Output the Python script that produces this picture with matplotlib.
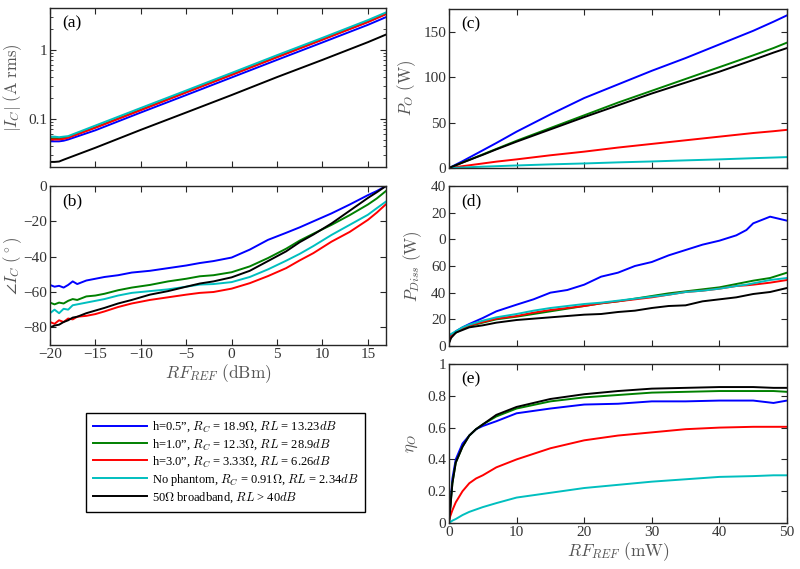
import matplotlib
matplotlib.use("Agg")
import matplotlib.pyplot as plt
from matplotlib.lines import Line2D
from matplotlib.ticker import LogLocator, NullFormatter

# ---- data ----
# (a) |I_C| vs RF_REF (dBm)
dbm_a = [-20, -19.5, -19, -18.5, -18, -15, -10, -5, 0, 5, 10, 15, 17]
ic_blue = [0.047, 0.047, 0.047, 0.048, 0.050, 0.068, 0.123, 0.22, 0.395, 0.71, 1.27, 2.28, 2.95]
ic_green = [0.052, 0.052, 0.052, 0.053, 0.054, 0.075, 0.135, 0.243, 0.435, 0.785, 1.41, 2.53, 3.3]
ic_red = [0.050, 0.050, 0.050, 0.051, 0.053, 0.074, 0.133, 0.24, 0.43, 0.775, 1.39, 2.5, 3.25]
ic_cyan = [0.055, 0.055, 0.054, 0.055, 0.056, 0.0796, 0.143, 0.256, 0.46, 0.83, 1.48, 2.67, 3.45]
ic_black = [0.0237, 0.0237, 0.024, 0.0255, 0.027, 0.038, 0.069, 0.123, 0.22, 0.40, 0.71, 1.28, 1.65]

# (b) angle of I_C vs RF_REF (dBm)
dbm_b = [-20, -19.5, -19, -18.5, -18, -17.5, -17, -16, -15, -14, -12.5, -11, -9, -7, -5,
         -3.5, -2, 0, 2, 4, 6, 7.5, 9, 11, 13, 15, 16, 17]
ang_blue = [-56, -57, -56.5, -57.5, -56, -54, -55.5, -53.5, -52.5, -51.5, -50.5, -49, -48, -46.5, -45,
            -43.6, -42.5, -40.5, -36, -30.5, -26.5, -23.4, -20, -15.5, -10.5, -5.2, -2.8, 0]
ang_green = [-66, -67, -66, -66.5, -65, -64, -64.5, -62.5, -62, -61, -59, -57.5, -56, -54, -52.5,
             -51.1, -50.5, -48.8, -45.5, -40.8, -35.5, -30.9, -27, -22, -16.5, -10.5, -7, -2.8]
ang_red = [-77, -78, -76, -77, -75, -75.5, -74, -73.5, -72.5, -71, -68.5, -66.5, -64.5, -63, -61.5,
           -60.5, -60, -58.1, -55, -51, -46.5, -42.1, -38, -31.5, -26, -19.2, -15, -10.3]
ang_cyan = [-72, -70, -72, -69.5, -70, -67.5, -67, -66, -65, -64, -62, -60.5, -59.5, -58.5, -57,
            -55.8, -55.5, -54.4, -51.5, -47.2, -42.3, -38.4, -34, -27.7, -22, -16.3, -12.5, -8.8]
ang_black = [-80, -79, -78.5, -77, -76, -74.5, -74, -72, -70.5, -69, -66.5, -64.5, -61.5, -59.5, -57,
             -55.2, -54, -51.7, -48, -42.5, -37, -31.8, -27.5, -21.2, -14, -6.8, -3.5, 0]

# (c) P_O vs RF_REF (mW)
mw_c = [0, 0.5, 1, 2, 3, 4, 5, 7, 10, 15, 20, 25, 30, 35, 40, 45, 48, 50]
po_blue = [0, 1.8, 3.7, 7.5, 11.5, 15.5, 19.5, 27.5, 40, 59, 77, 92, 107, 121, 136, 151, 161, 168]
po_green = [0, 1.5, 3, 6, 9, 12, 15, 21, 30, 44, 58, 72, 85, 98, 111, 124, 132, 138]
po_red = [0, 0.5, 1, 2, 3, 4, 5, 7, 9.5, 14, 18, 22.5, 26.5, 30.5, 34.5, 38.5, 40.5, 42]
po_cyan = [0, 0.1, 0.3, 0.6, 0.9, 1.2, 1.5, 2, 2.8, 4, 5, 6.2, 7.2, 8.4, 9.5, 10.8, 11.5, 12]
po_black = [0, 1.5, 3, 6, 8.8, 11.7, 14.5, 20.5, 29, 42.5, 56, 69, 82, 94, 106, 119, 127, 132]

# (d) P_Diss vs RF_REF (mW)
mw_d = [0, 0.3, 1, 2, 3, 5, 7, 10, 12.5, 15, 17.5, 20, 22.5, 25, 27.5, 30, 32.5, 35, 37.5,
        40, 42.5, 44, 45, 47.5, 50]
pd_blue = [3, 8, 11, 14, 16.5, 21, 26, 31, 35, 40, 42, 46, 52, 55, 60, 63, 68, 72, 76,
           79, 83, 87, 92, 97, 94]
pd_green = [3, 7, 10, 13, 15, 17.5, 20, 22, 24, 26, 28, 30, 32, 33.5, 35.5, 37.5, 39.5, 41, 42.5,
            44, 46.5, 48, 49, 51, 55]
pd_red = [3, 7, 10, 13.5, 15.5, 18, 20.5, 22.5, 25, 27, 28.5, 30, 32, 33.5, 35, 36.5, 38.5, 40.5, 41.5,
          43, 45, 45.5, 46, 47.5, 49.5]
pd_cyan = [8, 9, 11, 14, 16, 19, 21.5, 24, 26.5, 28.5, 30, 31.5, 32.5, 34, 35.5, 37, 38.5, 40.5, 41.5,
           43, 45, 46, 47, 49.5, 51]
pd_black = [2, 6, 10, 12, 14, 15.5, 17.5, 19.5, 20.5, 21.5, 22.5, 23.5, 24, 25.5, 26.5, 28.5, 30, 30.5, 33.5,
            35, 36.5, 38, 39, 40.5, 43.5]
pd_ticklabels = ['0', '20', '40', '60', '0', '20', '40']

# (e) eta_O vs RF_REF (mW)
mw_e = [0, 0.5, 1, 2, 3, 4, 5, 7, 10, 15, 20, 25, 30, 35, 40, 45, 48, 50]
eta_blue = [0, 0.28, 0.40, 0.50, 0.55, 0.59, 0.61, 0.64, 0.69, 0.72, 0.745, 0.75, 0.765, 0.765, 0.77, 0.77, 0.755, 0.77]
eta_green = [0, 0.25, 0.38, 0.48, 0.55, 0.59, 0.62, 0.67, 0.72, 0.765, 0.79, 0.805, 0.82, 0.825, 0.83, 0.83, 0.83, 0.825]
eta_red = [0.02, 0.08, 0.13, 0.20, 0.25, 0.28, 0.30, 0.35, 0.40, 0.47, 0.52, 0.55, 0.57, 0.59, 0.60, 0.605, 0.605, 0.605]
eta_cyan = [0, 0.015, 0.025, 0.05, 0.07, 0.085, 0.10, 0.125, 0.16, 0.19, 0.22, 0.24, 0.26, 0.275, 0.29, 0.295, 0.30, 0.30]
eta_black = [0, 0.25, 0.38, 0.48, 0.55, 0.59, 0.62, 0.68, 0.73, 0.78, 0.81, 0.83, 0.845, 0.85, 0.855, 0.855, 0.85, 0.85]

legend_labels = [
    r"h=0.5”, $R_C$ = 18.9$\Omega$, $RL$ = 13.23$dB$",
    r"h=1.0”, $R_C$ = 12.3$\Omega$, $RL$ = 28.9$dB$",
    r"h=3.0”, $R_C$ = 3.33$\Omega$, $RL$ = 6.26$dB$",
    r"No phantom, $R_C$ = 0.91$\Omega$, $RL$ = 2.34$dB$",
    r"50$\Omega$ broadband, $RL$ > 40$dB$",
]
colors = ['#0000ff', '#008000', '#ff0000', '#00bfbf', '#000000']

# ---- style ----
plt.rcParams['font.family'] = ['Liberation Serif', 'DejaVu Serif']
plt.rcParams['mathtext.fontset'] = 'cm'
plt.rcParams['font.size'] = 11
axcol = '#262626'
LW = 1.4

fig = plt.figure(figsize=(8, 5.69), dpi=100)
W, H = 800.0, 569.0


def make_ax(x0, y0, x1, y1):
    ax = fig.add_axes([x0 / W, 1 - y1 / H, (x1 - x0) / W, (y1 - y0) / H])
    ax.tick_params(which='both', direction='in', top=True, right=True, colors=axcol, labelcolor='#333333')
    ax.tick_params(which='major', length=4, pad=2)
    ax.tick_params(which='minor', length=2)
    for s in ax.spines.values():
        s.set_color(axcol)
        s.set_linewidth(1.0)
    return ax


def panel_label(ax, txt):
    ax.text(0.035, 0.905, txt, transform=ax.transAxes, fontsize=12.5, va='center', ha='left')


def ylab(ax, txt, xfrac):
    ax.set_ylabel(txt, color='#555555', fontsize=12)
    ax.yaxis.set_label_coords(xfrac, 0.5)


ax_a = make_ax(50, 8, 386, 167)
ax_b = make_ax(50, 186, 386, 345)
ax_c = make_ax(449, 9, 787, 168)
ax_d = make_ax(449, 186, 787, 346)
ax_e = make_ax(449, 364, 787, 523)

# (a)
for y, c in zip([ic_blue, ic_green, ic_red, ic_cyan, ic_black], colors):
    ax_a.plot(dbm_a, y, color=c, lw=LW)
ax_a.set_yscale('log')
ax_a.set_xlim(-20, 17)
ax_a.set_ylim(0.02, 4)
ax_a.set_xticks([-20, -15, -10, -5, 0, 5, 10, 15])
ax_a.set_xticklabels([])
ax_a.set_yticks([0.1, 1])
ax_a.set_yticklabels(['0.1', '1'])
ax_a.yaxis.set_minor_locator(LogLocator(base=10, subs=[2, 3, 4, 5, 6, 7, 8, 9]))
ax_a.yaxis.set_minor_formatter(NullFormatter())
ylab(ax_a, r"$|I_C|\ \mathrm{(A\ rms)}$", -0.078)
panel_label(ax_a, '(a)')

# (b)
for y, c in zip([ang_blue, ang_green, ang_red, ang_cyan, ang_black], colors):
    ax_b.plot(dbm_b, y, color=c, lw=LW)
ax_b.set_xlim(-20, 17)
ax_b.set_ylim(-90, 0)
ax_b.set_xticks([-20, -15, -10, -5, 0, 5, 10, 15])
ax_b.set_yticks([-80, -60, -40, -20, 0])
ylab(ax_b, r"$\angle I_C\ \mathrm{(^\circ)}$", -0.078)
ax_b.set_xlabel(r"$RF_{REF}\ \mathrm{(dBm)}$", color='#555555', fontsize=12.5, labelpad=1)
panel_label(ax_b, '(b)')

# (c)
for y, c in zip([po_blue, po_green, po_red, po_cyan, po_black], colors):
    ax_c.plot(mw_c, y, color=c, lw=LW)
ax_c.set_xlim(0, 50)
ax_c.set_ylim(0, 175)
ax_c.set_xticks([0, 10, 20, 30, 40, 50])
ax_c.set_xticklabels([])
ax_c.set_yticks([0, 50, 100, 150])
ylab(ax_c, r"$P_O\ \mathrm{(W)}$", -0.092)
panel_label(ax_c, '(c)')

# (d)
for y, c in zip([pd_blue, pd_green, pd_red, pd_cyan, pd_black], colors):
    ax_d.plot(mw_d, y, color=c, lw=LW)
ax_d.set_xlim(0, 50)
ax_d.set_ylim(0, 120)
ax_d.set_xticks([0, 10, 20, 30, 40, 50])
ax_d.set_xticklabels([])
ax_d.set_yticks([0, 20, 40, 60, 80, 100, 120])
ax_d.set_yticklabels(pd_ticklabels)
ylab(ax_d, r"$P_{Diss}\ \mathrm{(W)}$", -0.075)
panel_label(ax_d, '(d)')

# (e)
for y, c in zip([eta_blue, eta_green, eta_red, eta_cyan, eta_black], colors):
    ax_e.plot(mw_e, y, color=c, lw=LW)
ax_e.set_xlim(0, 50)
ax_e.set_ylim(0, 1)
ax_e.set_xticks([0, 10, 20, 30, 40, 50])
ax_e.set_yticks([0, 0.2, 0.4, 0.6, 0.8, 1])
ax_e.set_yticklabels(['0', '0.2', '0.4', '0.6', '0.8', '1'])
ylab(ax_e, r"$\eta_O$", -0.085)
ax_e.set_xlabel(r"$RF_{REF}\ \mathrm{(mW)}$", color='#555555', fontsize=12.5, labelpad=1)
panel_label(ax_e, '(e)')

# legend
handles = [Line2D([0], [0], color=c, lw=LW) for c in colors]
leg = fig.legend(handles, legend_labels, loc='upper left',
                 bbox_to_anchor=(86 / W, 1 - 413 / H), bbox_transform=fig.transFigure,
                 fancybox=False, edgecolor='black', fontsize=9, handlelength=4.3,
                 labelspacing=0.22, borderpad=0.55, borderaxespad=0, handletextpad=0.4,
                 framealpha=1)
leg.get_frame().set_linewidth(1.0)

fig.savefig('out.png', dpi=100)
